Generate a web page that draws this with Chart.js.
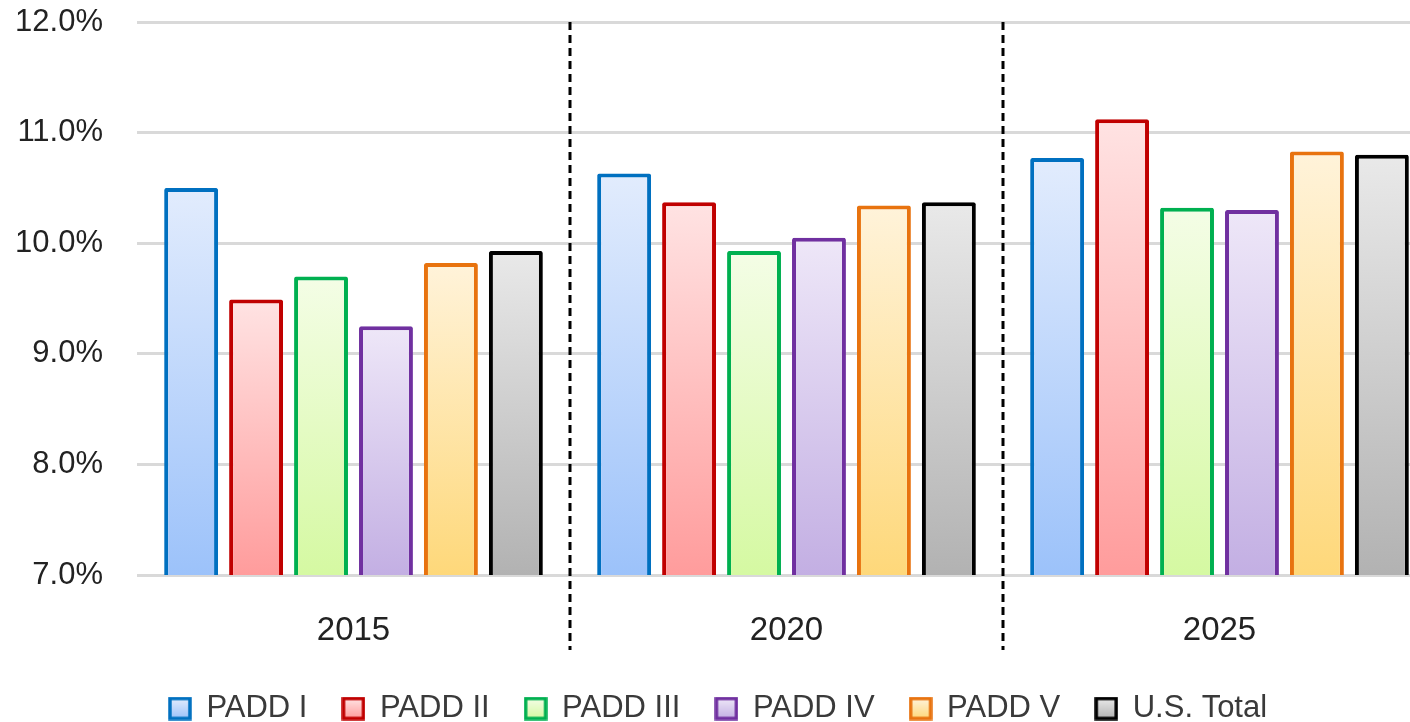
<!DOCTYPE html>
<html lang="en">
  <head>
    <meta charset="UTF-8" />
    <title>PADD bars</title>
    <style>
      html, body {
        margin: 0;
        padding: 0;
        background: #fff;
        overflow: hidden;
      }
      #chart {
        display: block;
      }
    </style>
  </head>
  <body>
    <canvas id="chart" width="1436" height="734"></canvas>

    <script src="https://cdn.jsdelivr.net/npm/chart.js"></script>
    <script>
      const years = ["2015", "2020", "2025"];
      const seriesNames = ["PADD I", "PADD II", "PADD III", "PADD IV", "PADD V", "U.S. Total"];

      const paddI = [10.5, 10.63, 10.77];
      const paddII = [9.49, 10.37, 11.12];
      const paddIII = [9.7, 9.93, 10.32];
      const paddIV = [9.25, 10.05, 10.3];
      const paddV = [9.82, 10.34, 10.83];
      const usTotal = [9.93, 10.37, 10.8];

      const yTicks = [7, 8, 9, 10, 11, 12];

      // border, gradient top, gradient bottom
      const palette = [
        ["#0070c0", "#e2ecfd", "#9cc2fa"],
        ["#c00000", "#ffe3e3", "#ff9c9c"],
        ["#00b050", "#f4fde6", "#d5f9a2"],
        ["#7030a0", "#eee7f8", "#c3afe3"],
        ["#e8730f", "#fff3da", "#fed87a"],
        ["#000000", "#e9e9e9", "#b2b2b2"],
      ];

      const FONT = "'Liberation Sans', Arial, sans-serif";

      function barFill(idx) {
        return (c) => {
          const chart = c.chart;
          const area = chart.chartArea;
          const pal = palette[idx];
          if (!area || c.type !== "data") return pal[2];
          const top = chart.scales.y.getPixelForValue(c.parsed.y);
          const g = chart.ctx.createLinearGradient(0, top, 0, area.bottom);
          g.addColorStop(0, pal[1]);
          g.addColorStop(1, pal[2]);
          return g;
        };
      }

      const allValues = [paddI, paddII, paddIII, paddIV, paddV, usTotal];

      const datasets = allValues.map((vals, i) => ({
        label: seriesNames[i],
        data: vals,
        backgroundColor: barFill(i),
        borderColor: palette[i][0],
        borderWidth: 4,
        borderSkipped: "bottom",
        borderRadius: 2,
        categoryPercentage: 0.9,
        barPercentage: 0.83,
      }));

      // dashed separators between year groups
      const separators = {
        id: "separators",
        afterDatasetsDraw(chart) {
          const x = chart.scales.x;
          const ctx = chart.ctx;
          ctx.save();
          ctx.strokeStyle = "#000";
          ctx.lineWidth = 3;
          ctx.setLineDash([8, 5]);
          for (let i = 0; i < years.length - 1; i++) {
            const px = (x.getPixelForTick(i) + x.getPixelForTick(i + 1)) / 2;
            ctx.beginPath();
            ctx.moveTo(px, chart.chartArea.top);
            ctx.lineTo(px, chart.chartArea.bottom + 75);
            ctx.stroke();
          }
          ctx.restore();
        },
      };

      // square legend boxes with the same gradient look
      function legendBox(idx) {
        const c = document.createElement("canvas");
        c.width = 24;
        c.height = 24;
        const g = c.getContext("2d");
        const grad = g.createLinearGradient(0, 2, 0, 22);
        grad.addColorStop(0, palette[idx][1]);
        grad.addColorStop(1, palette[idx][2]);
        g.fillStyle = grad;
        g.fillRect(2, 2, 20, 20);
        g.strokeStyle = palette[idx][0];
        g.lineWidth = 3.5;
        g.strokeRect(2, 2, 20, 20);
        return c;
      }

      new Chart(document.getElementById("chart"), {
        type: "bar",
        data: { labels: years, datasets: datasets },
        options: {
          responsive: false,
          animation: false,
          layout: { padding: { top: 22, left: 0, right: 0, bottom: 0 } },
          scales: {
            x: {
              grid: { display: false },
              border: { display: false },
              ticks: {
                color: "#222",
                font: { family: FONT, size: 33 },
                padding: 28,
              },
              afterFit: (s) => {
                s.height = 83;
              },
            },
            y: {
              min: 7,
              max: 12,
              afterBuildTicks: (s) => {
                s.ticks = yTicks.map((v) => ({ value: v }));
              },
              grid: {
                color: "#d9d9d9",
                lineWidth: 3,
                drawTicks: false,
              },
              border: { display: false },
              ticks: {
                color: "#222",
                font: { family: FONT, size: 31 },
                padding: 34,
                callback: (v) => v.toFixed(1) + "%",
              },
              afterFit: (s) => {
                s.width = 137;
                s.paddingTop = 0;
                s.paddingBottom = 0;
              },
            },
          },
          plugins: {
            legend: {
              position: "bottom",
              labels: {
                color: "#3a3a3a",
                font: { family: FONT, size: 31 },
                usePointStyle: true,
                boxWidth: 22,
                boxHeight: 22,
                padding: 35,
                generateLabels: () =>
                  seriesNames.map((name, i) => ({
                    text: name,
                    fontColor: "#3a3a3a",
                    pointStyle: legendBox(i),
                    datasetIndex: i,
                    fillStyle: palette[i][2],
                    strokeStyle: palette[i][0],
                    lineWidth: 0,
                  })),
              },
            },
            tooltip: { enabled: false },
          },
        },
        plugins: [separators],
      });
    </script>
  </body>
</html>
